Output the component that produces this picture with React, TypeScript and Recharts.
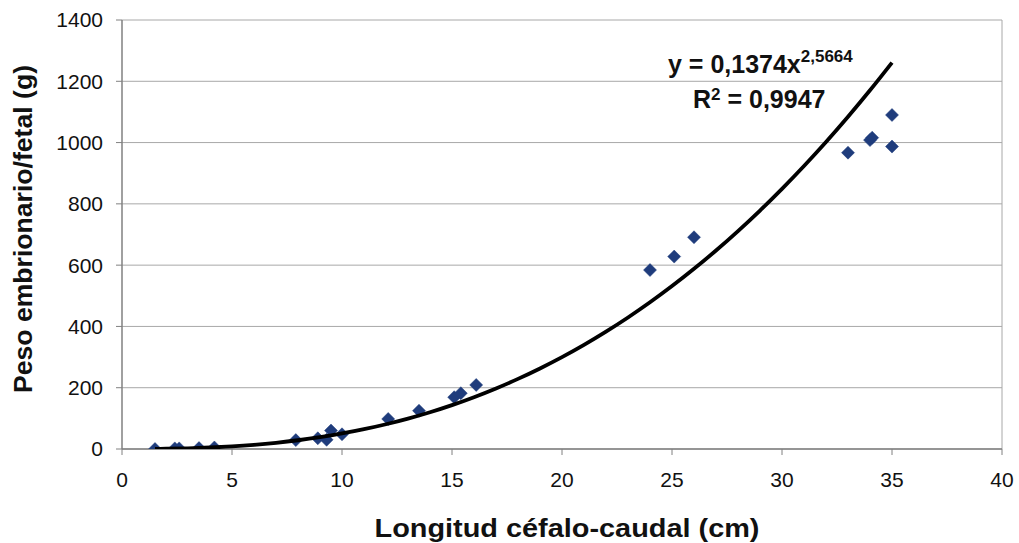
import React from 'react';
import { ScatterChart, Scatter, XAxis, YAxis, CartesianGrid, ReferenceLine } from 'recharts';

// Measured data points: crown-rump length (cm) and embryonic/fetal weight (g)
const lengthCm = [1.5, 2.4, 2.6, 3.5, 4.2, 7.9, 8.9, 9.3, 9.5, 10.0, 12.1, 13.5, 15.1, 15.4, 16.1, 24.0, 25.1, 26.0, 33.0, 34.0, 34.1, 35.0, 35.0];
const weightG = [0, 2, 2, 3, 5, 29, 35, 30, 60, 48, 98, 125, 169, 182, 209, 584, 628, 691, 967, 1008, 1016, 1090, 987];

// Power trendline printed on the chart: y = 0,1374 x^2,5664
const trendA = 0.1374;
const trendB = 2.5664;
const trendX = [1.5, 2, 3, 4, 5, 6, 7, 8, 9, 10, 11, 12, 13, 14, 15, 16, 17, 18, 19, 20, 21, 22, 23, 24, 25, 26, 27, 28, 29, 30, 31, 32, 33, 34, 35];

const xTicks = [0, 5, 10, 15, 20, 25, 30, 35, 40];
const yTicks = [0, 200, 400, 600, 800, 1000, 1200, 1400];

const points = lengthCm.map((x, i) => ({ x, y: weightG[i] }));
const trend = trendX.map((x) => ({ x, y: trendA * Math.pow(x, trendB) }));

const FONT = '"Liberation Sans", Arial, sans-serif';
const MARKER = '#1f3c7c';

const Diamond = (props: any) => {
  const { cx, cy } = props;
  if (cx == null || cy == null) return <g />;
  const r = 6.5;
  return (
    <polygon
      points={`${cx},${cy - r} ${cx + r},${cy} ${cx},${cy + r} ${cx - r},${cy}`}
      fill={MARKER}
      stroke={MARKER}
      strokeWidth={0.5}
    />
  );
};

const NoShape = () => <g />;

export default function App() {
  return (
    <div style={{ position: 'absolute', left: 0, top: 0, width: 1019, height: 543, background: '#fff' }}>
      <ScatterChart
        width={1019}
        height={543}
        margin={{ top: 20, right: 17, left: 0, bottom: 0 }}
        style={{ fontFamily: FONT }}
      >
        <CartesianGrid vertical={false} stroke="#a8a8a8" strokeWidth={1} />
        <ReferenceLine x={40} stroke="#a8a8a8" strokeWidth={1} />
        <XAxis
          type="number"
          dataKey="x"
          domain={[0, 40]}
          ticks={xTicks}
          interval={0}
          height={94}
          tickSize={6}
          tickMargin={17}
          axisLine={{ stroke: '#808080', strokeWidth: 1.5 }}
          tickLine={{ stroke: '#808080' }}
          tick={{ fontSize: 21, fill: '#111', fontFamily: FONT }}
          allowDataOverflow
        />
        <YAxis
          type="number"
          dataKey="y"
          domain={[0, 1400]}
          ticks={yTicks}
          interval={0}
          width={122}
          tickSize={6}
          tickMargin={13}
          axisLine={{ stroke: '#808080', strokeWidth: 1.5 }}
          tickLine={{ stroke: '#808080' }}
          tick={{ fontSize: 21, fill: '#111', fontFamily: FONT }}
          allowDataOverflow
        />
        <Scatter data={points} shape={Diamond} isAnimationActive={false} />
        <Scatter
          data={trend}
          shape={NoShape}
          line={{ stroke: '#000', strokeWidth: 3.8 }}
          lineJointType="monotoneX"
          isAnimationActive={false}
        />
        <text
          x={567}
          y={537}
          textAnchor="middle"
          fontSize={25}
          fontWeight="bold"
          fontFamily={FONT}
          fill="#111"
          textLength={385}
          lengthAdjust="spacingAndGlyphs"
        >
          Longitud céfalo-caudal (cm)
        </text>
        <text
          transform="translate(32,229) rotate(-90)"
          textAnchor="middle"
          fontSize={26}
          fontWeight="bold"
          fontFamily={FONT}
          fill="#111"
          textLength={328}
          lengthAdjust="spacingAndGlyphs"
        >
          Peso embrionario/fetal (g)
        </text>
        <text x={668} y={73} fontSize={25} fontWeight="bold" fontFamily={FONT} fill="#111">
          y = 0,1374x
          <tspan fontSize={17} dy={-11}>2,5664</tspan>
        </text>
        <text x={693} y={108} fontSize={25} fontWeight="bold" fontFamily={FONT} fill="#111">
          R<tspan fontSize={17} dy={-8}>2</tspan>
          <tspan dy={8}> = 0,9947</tspan>
        </text>
      </ScatterChart>
    </div>
  );
}
